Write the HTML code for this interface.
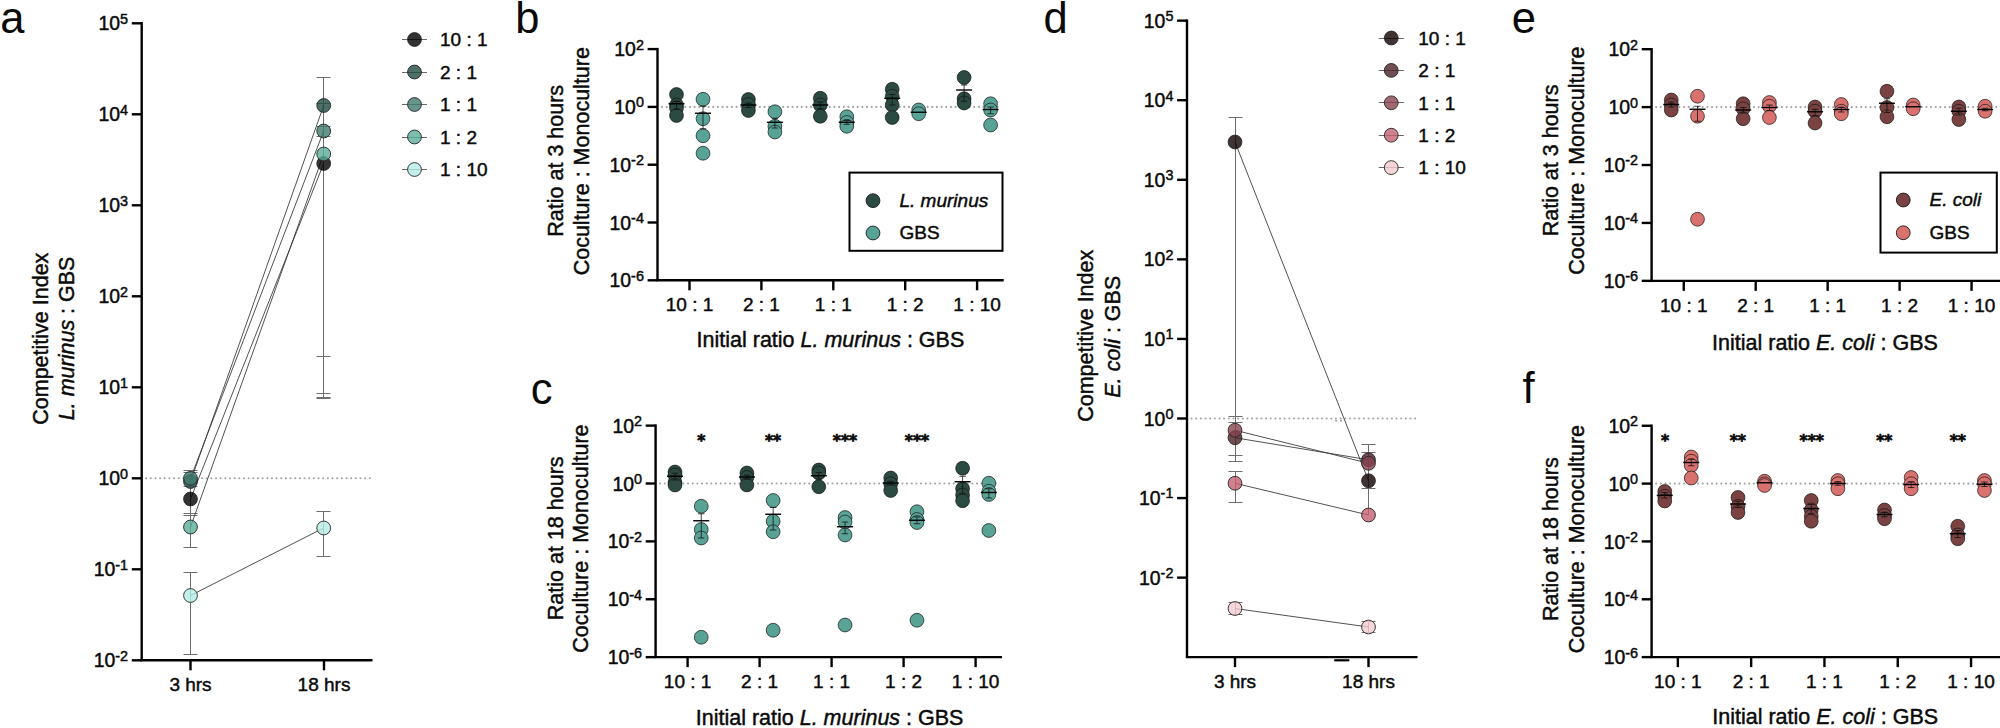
<!DOCTYPE html>
<html lang="en"><head><meta charset="utf-8"><title>Figure</title>
<style>
html,body{margin:0;padding:0;background:#fff;}
svg{display:block}
svg text{font-family:"Liberation Sans", Arial, sans-serif;fill:#0a0a0a;stroke:#0a0a0a;stroke-width:0.45px;}
</style></head>
<body>
<svg width="2000" height="728" viewBox="0 0 2000 728">
<rect width="2000" height="728" fill="#fff"/>
<text x="0.3" y="32.7" font-size="43.5" stroke-width="0" style="stroke-width:0">a</text>
<path d="M141.7 22.10V660.30" stroke="#000" stroke-width="2.4" fill="none"/>
<path d="M131.80 23.30H141.7" stroke="#000" stroke-width="2.4" fill="none"/>
<text x="128.1" y="30.40" text-anchor="end" font-size="19.4">10<tspan font-size="14.4" dy="-6.7">5</tspan></text>
<path d="M131.80 114.30H141.7" stroke="#000" stroke-width="2.4" fill="none"/>
<text x="128.1" y="121.40" text-anchor="end" font-size="19.4">10<tspan font-size="14.4" dy="-6.7">4</tspan></text>
<path d="M131.80 205.30H141.7" stroke="#000" stroke-width="2.4" fill="none"/>
<text x="128.1" y="212.40" text-anchor="end" font-size="19.4">10<tspan font-size="14.4" dy="-6.7">3</tspan></text>
<path d="M131.80 296.30H141.7" stroke="#000" stroke-width="2.4" fill="none"/>
<text x="128.1" y="303.40" text-anchor="end" font-size="19.4">10<tspan font-size="14.4" dy="-6.7">2</tspan></text>
<path d="M131.80 387.30H141.7" stroke="#000" stroke-width="2.4" fill="none"/>
<text x="128.1" y="394.40" text-anchor="end" font-size="19.4">10<tspan font-size="14.4" dy="-6.7">1</tspan></text>
<path d="M131.80 478.30H141.7" stroke="#000" stroke-width="2.4" fill="none"/>
<text x="128.1" y="485.40" text-anchor="end" font-size="19.4">10<tspan font-size="14.4" dy="-6.7">0</tspan></text>
<path d="M131.80 569.30H141.7" stroke="#000" stroke-width="2.4" fill="none"/>
<text x="128.1" y="576.40" text-anchor="end" font-size="19.4">10<tspan font-size="14.4" dy="-6.7">-1</tspan></text>
<path d="M131.80 660.30H141.7" stroke="#000" stroke-width="2.4" fill="none"/>
<text x="128.1" y="667.40" text-anchor="end" font-size="19.4">10<tspan font-size="14.4" dy="-6.7">-2</tspan></text>
<path d="M140.50 660.30H372.50" stroke="#000" stroke-width="2.4" fill="none"/>
<path d="M190.50 660.30V670.30" stroke="#000" stroke-width="2.4" fill="none"/>
<text x="190.50" y="691.20" text-anchor="middle" font-size="19">3 hrs</text>
<path d="M324.00 660.30V670.30" stroke="#000" stroke-width="2.4" fill="none"/>
<text x="324.00" y="691.20" text-anchor="middle" font-size="19">18 hrs</text>
<path d="M146.10 478.30H371.00" stroke="#a3a3a3" stroke-width="2.1" stroke-linecap="round" stroke-dasharray="0.01 4.65" fill="none"/>
<text transform="translate(47.50 338.70) rotate(-90)" text-anchor="middle" font-size="21.5">Competitive Index</text>
<text transform="translate(74.30 338.40) rotate(-90)" text-anchor="middle" font-size="21.5"><tspan font-style="italic">L. murinus</tspan> : GBS</text>
<path d="M190.50 470.00V547.20M183.50 470.50H197.50M183.50 472.50H197.50M183.50 486.50H197.50M183.50 513.50H197.50M183.50 515.50H197.50M183.50 547.50H197.50" stroke="#6e6e6e" stroke-width="1" fill="none"/>
<path d="M190.50 572.70V654.70M183.50 572.50H197.50M183.50 654.50H197.50" stroke="#6e6e6e" stroke-width="1" fill="none"/>
<path d="M323.50 77.50V398.40M316.50 77.50H330.50M316.50 103.50H330.50M316.50 126.50H330.50M316.50 136.50H330.50M316.50 356.50H330.50M316.50 393.50H330.50M316.50 397.50H330.50M316.50 398.50H330.50" stroke="#6e6e6e" stroke-width="1" fill="none"/>
<path d="M323.50 511.50V556.80M316.50 511.50H330.50M316.50 556.50H330.50" stroke="#6e6e6e" stroke-width="1" fill="none"/>
<path d="M190.50 499.00L323.70 163.50" stroke="#333" stroke-width="0.85" fill="none"/>
<path d="M190.50 481.50L323.70 105.50" stroke="#333" stroke-width="0.85" fill="none"/>
<path d="M190.50 478.30L323.70 131.00" stroke="#333" stroke-width="0.85" fill="none"/>
<path d="M190.50 527.00L323.70 154.00" stroke="#333" stroke-width="0.85" fill="none"/>
<path d="M190.50 595.50L323.70 528.00" stroke="#333" stroke-width="0.85" fill="none"/>
<circle cx="190.50" cy="499.00" r="6.9" fill="#000000" fill-opacity="0.8" stroke="#262626" stroke-width="0.9"/>
<circle cx="190.50" cy="481.50" r="6.9" fill="#214b42" fill-opacity="0.8" stroke="#262626" stroke-width="0.9"/>
<circle cx="190.50" cy="478.30" r="6.9" fill="#407c6e" fill-opacity="0.8" stroke="#262626" stroke-width="0.9"/>
<circle cx="190.50" cy="527.00" r="6.9" fill="#5bad9a" fill-opacity="0.8" stroke="#262626" stroke-width="0.9"/>
<circle cx="190.50" cy="595.50" r="6.9" fill="#b4ece6" fill-opacity="0.8" stroke="#262626" stroke-width="0.9"/>
<circle cx="323.70" cy="163.50" r="6.9" fill="#000000" fill-opacity="0.8" stroke="#262626" stroke-width="0.9"/>
<circle cx="323.70" cy="105.50" r="6.9" fill="#214b42" fill-opacity="0.8" stroke="#262626" stroke-width="0.9"/>
<circle cx="323.70" cy="131.00" r="6.9" fill="#407c6e" fill-opacity="0.8" stroke="#262626" stroke-width="0.9"/>
<circle cx="323.70" cy="154.00" r="6.9" fill="#5bad9a" fill-opacity="0.8" stroke="#262626" stroke-width="0.9"/>
<circle cx="323.70" cy="528.00" r="6.9" fill="#b4ece6" fill-opacity="0.8" stroke="#262626" stroke-width="0.9"/>
<path d="M402.00 39.50L427.00 39.50" stroke="#666" stroke-width="1" fill="none"/>
<circle cx="414.50" cy="39.50" r="6.9" fill="#000000" fill-opacity="0.8" stroke="#262626" stroke-width="0.9"/>
<text x="440.00" y="46.30" text-anchor="start" font-size="19" >10 : 1</text>
<path d="M402.00 72.50L427.00 72.50" stroke="#666" stroke-width="1" fill="none"/>
<circle cx="414.50" cy="72.00" r="6.9" fill="#214b42" fill-opacity="0.8" stroke="#262626" stroke-width="0.9"/>
<text x="440.00" y="78.80" text-anchor="start" font-size="19" >2 : 1</text>
<path d="M402.00 104.50L427.00 104.50" stroke="#666" stroke-width="1" fill="none"/>
<circle cx="414.50" cy="104.50" r="6.9" fill="#407c6e" fill-opacity="0.8" stroke="#262626" stroke-width="0.9"/>
<text x="440.00" y="111.30" text-anchor="start" font-size="19" >1 : 1</text>
<path d="M402.00 137.50L427.00 137.50" stroke="#666" stroke-width="1" fill="none"/>
<circle cx="414.50" cy="137.00" r="6.9" fill="#5bad9a" fill-opacity="0.8" stroke="#262626" stroke-width="0.9"/>
<text x="440.00" y="143.80" text-anchor="start" font-size="19" >1 : 2</text>
<path d="M402.00 169.50L427.00 169.50" stroke="#666" stroke-width="1" fill="none"/>
<circle cx="414.50" cy="169.50" r="6.9" fill="#b4ece6" fill-opacity="0.8" stroke="#262626" stroke-width="0.9"/>
<text x="440.00" y="176.30" text-anchor="start" font-size="19" >1 : 10</text>
<text x="515.3" y="32.7" font-size="43.5" stroke-width="0" style="stroke-width:0">b</text>
<path d="M657.5 47.90V280.30" stroke="#000" stroke-width="2.4" fill="none"/>
<path d="M647.60 49.10H657.5" stroke="#000" stroke-width="2.4" fill="none"/>
<text x="643.9" y="56.20" text-anchor="end" font-size="19.4">10<tspan font-size="14.4" dy="-6.7">2</tspan></text>
<path d="M647.60 106.90H657.5" stroke="#000" stroke-width="2.4" fill="none"/>
<text x="643.9" y="114.00" text-anchor="end" font-size="19.4">10<tspan font-size="14.4" dy="-6.7">0</tspan></text>
<path d="M647.60 164.70H657.5" stroke="#000" stroke-width="2.4" fill="none"/>
<text x="643.9" y="171.80" text-anchor="end" font-size="19.4">10<tspan font-size="14.4" dy="-6.7">-2</tspan></text>
<path d="M647.60 222.50H657.5" stroke="#000" stroke-width="2.4" fill="none"/>
<text x="643.9" y="229.60" text-anchor="end" font-size="19.4">10<tspan font-size="14.4" dy="-6.7">-4</tspan></text>
<path d="M647.60 280.30H657.5" stroke="#000" stroke-width="2.4" fill="none"/>
<text x="643.9" y="287.40" text-anchor="end" font-size="19.4">10<tspan font-size="14.4" dy="-6.7">-6</tspan></text>
<path d="M656.30 280.30H1003.70" stroke="#000" stroke-width="2.4" fill="none"/>
<path d="M689.50 280.30V290.30" stroke="#000" stroke-width="2.4" fill="none"/>
<text x="689.50" y="311.00" text-anchor="middle" font-size="19">10 : 1</text>
<path d="M761.40 280.30V290.30" stroke="#000" stroke-width="2.4" fill="none"/>
<text x="761.40" y="311.00" text-anchor="middle" font-size="19">2 : 1</text>
<path d="M833.30 280.30V290.30" stroke="#000" stroke-width="2.4" fill="none"/>
<text x="833.30" y="311.00" text-anchor="middle" font-size="19">1 : 1</text>
<path d="M905.20 280.30V290.30" stroke="#000" stroke-width="2.4" fill="none"/>
<text x="905.20" y="311.00" text-anchor="middle" font-size="19">1 : 2</text>
<path d="M977.10 280.30V290.30" stroke="#000" stroke-width="2.4" fill="none"/>
<text x="977.10" y="311.00" text-anchor="middle" font-size="19">1 : 10</text>
<path d="M662.00 106.90H1001.70" stroke="#a3a3a3" stroke-width="2.1" stroke-linecap="round" stroke-dasharray="0.01 4.65" fill="none"/>
<circle cx="676.50" cy="94.50" r="6.9" fill="#2a4a42" fill-opacity="1" stroke="#151515" stroke-width="0.7"/>
<circle cx="676.50" cy="105.00" r="6.9" fill="#2a4a42" fill-opacity="1" stroke="#151515" stroke-width="0.7"/>
<circle cx="676.50" cy="108.00" r="6.9" fill="#2a4a42" fill-opacity="1" stroke="#151515" stroke-width="0.7"/>
<circle cx="676.50" cy="115.50" r="6.9" fill="#2a4a42" fill-opacity="1" stroke="#151515" stroke-width="0.7"/>
<circle cx="703.00" cy="99.25" r="6.9" fill="#58a396" fill-opacity="1" stroke="#151515" stroke-width="0.7"/>
<circle cx="703.00" cy="118.75" r="6.9" fill="#58a396" fill-opacity="1" stroke="#151515" stroke-width="0.7"/>
<circle cx="703.00" cy="135.75" r="6.9" fill="#58a396" fill-opacity="1" stroke="#151515" stroke-width="0.7"/>
<circle cx="703.00" cy="153.25" r="6.9" fill="#58a396" fill-opacity="1" stroke="#151515" stroke-width="0.7"/>
<circle cx="748.40" cy="99.50" r="6.9" fill="#2a4a42" fill-opacity="1" stroke="#151515" stroke-width="0.7"/>
<circle cx="748.40" cy="104.50" r="6.9" fill="#2a4a42" fill-opacity="1" stroke="#151515" stroke-width="0.7"/>
<circle cx="748.40" cy="110.50" r="6.9" fill="#2a4a42" fill-opacity="1" stroke="#151515" stroke-width="0.7"/>
<circle cx="774.90" cy="111.75" r="6.9" fill="#58a396" fill-opacity="1" stroke="#151515" stroke-width="0.7"/>
<circle cx="774.90" cy="126.25" r="6.9" fill="#58a396" fill-opacity="1" stroke="#151515" stroke-width="0.7"/>
<circle cx="774.90" cy="132.00" r="6.9" fill="#58a396" fill-opacity="1" stroke="#151515" stroke-width="0.7"/>
<circle cx="820.30" cy="98.25" r="6.9" fill="#2a4a42" fill-opacity="1" stroke="#151515" stroke-width="0.7"/>
<circle cx="820.30" cy="105.00" r="6.9" fill="#2a4a42" fill-opacity="1" stroke="#151515" stroke-width="0.7"/>
<circle cx="820.30" cy="116.25" r="6.9" fill="#2a4a42" fill-opacity="1" stroke="#151515" stroke-width="0.7"/>
<circle cx="846.80" cy="116.75" r="6.9" fill="#58a396" fill-opacity="1" stroke="#151515" stroke-width="0.7"/>
<circle cx="846.80" cy="122.50" r="6.9" fill="#58a396" fill-opacity="1" stroke="#151515" stroke-width="0.7"/>
<circle cx="846.80" cy="126.25" r="6.9" fill="#58a396" fill-opacity="1" stroke="#151515" stroke-width="0.7"/>
<circle cx="892.20" cy="89.25" r="6.9" fill="#2a4a42" fill-opacity="1" stroke="#151515" stroke-width="0.7"/>
<circle cx="892.20" cy="96.25" r="6.9" fill="#2a4a42" fill-opacity="1" stroke="#151515" stroke-width="0.7"/>
<circle cx="892.20" cy="105.00" r="6.9" fill="#2a4a42" fill-opacity="1" stroke="#151515" stroke-width="0.7"/>
<circle cx="892.20" cy="117.50" r="6.9" fill="#2a4a42" fill-opacity="1" stroke="#151515" stroke-width="0.7"/>
<circle cx="918.70" cy="110.00" r="6.9" fill="#58a396" fill-opacity="1" stroke="#151515" stroke-width="0.7"/>
<circle cx="918.70" cy="113.75" r="6.9" fill="#58a396" fill-opacity="1" stroke="#151515" stroke-width="0.7"/>
<circle cx="964.10" cy="77.50" r="6.9" fill="#2a4a42" fill-opacity="1" stroke="#151515" stroke-width="0.7"/>
<circle cx="964.10" cy="98.75" r="6.9" fill="#2a4a42" fill-opacity="1" stroke="#151515" stroke-width="0.7"/>
<circle cx="964.10" cy="103.00" r="6.9" fill="#2a4a42" fill-opacity="1" stroke="#151515" stroke-width="0.7"/>
<circle cx="990.60" cy="103.75" r="6.9" fill="#58a396" fill-opacity="1" stroke="#151515" stroke-width="0.7"/>
<circle cx="990.60" cy="110.00" r="6.9" fill="#58a396" fill-opacity="1" stroke="#151515" stroke-width="0.7"/>
<circle cx="990.60" cy="125.00" r="6.9" fill="#58a396" fill-opacity="1" stroke="#151515" stroke-width="0.7"/>
<path d="M676.50 101.25V109.50M673.30 101.25H679.70M673.30 109.50H679.70" stroke="#111" stroke-width="0.8" fill="none"/>
<path d="M668.50 103.75H684.50" stroke="#000" stroke-width="1.4"/>
<path d="M703.00 106.25V128.75M699.80 106.25H706.20M699.80 128.75H706.20" stroke="#111" stroke-width="0.8" fill="none"/>
<path d="M695.00 113.25H711.00" stroke="#000" stroke-width="1.4"/>
<path d="M748.40 103.00V107.50M745.20 103.00H751.60M745.20 107.50H751.60" stroke="#111" stroke-width="0.8" fill="none"/>
<path d="M740.40 105.00H756.40" stroke="#000" stroke-width="1.4"/>
<path d="M774.90 118.25V128.00M771.70 118.25H778.10M771.70 128.00H778.10" stroke="#111" stroke-width="0.8" fill="none"/>
<path d="M766.90 122.25H782.90" stroke="#000" stroke-width="1.4"/>
<path d="M820.30 102.00V108.75M817.10 102.00H823.50M817.10 108.75H823.50" stroke="#111" stroke-width="0.8" fill="none"/>
<path d="M812.30 105.00H828.30" stroke="#000" stroke-width="1.4"/>
<path d="M846.80 120.50V124.25M843.60 120.50H850.00M843.60 124.25H850.00" stroke="#111" stroke-width="0.8" fill="none"/>
<path d="M838.80 122.25H854.80" stroke="#000" stroke-width="1.4"/>
<path d="M892.20 94.50V105.00M889.00 94.50H895.40M889.00 105.00H895.40" stroke="#111" stroke-width="0.8" fill="none"/>
<path d="M884.20 98.25H900.20" stroke="#000" stroke-width="1.4"/>
<path d="M910.70 112.25H926.70" stroke="#000" stroke-width="1.4"/>
<path d="M964.10 85.00V101.25M960.90 85.00H967.30M960.90 101.25H967.30" stroke="#111" stroke-width="0.8" fill="none"/>
<path d="M956.10 90.00H972.10" stroke="#000" stroke-width="1.4"/>
<path d="M990.60 107.00V113.75M987.40 107.00H993.80M987.40 113.75H993.80" stroke="#111" stroke-width="0.8" fill="none"/>
<path d="M982.60 109.50H998.60" stroke="#000" stroke-width="1.4"/>
<text transform="translate(563.20 160.80) rotate(-90)" text-anchor="middle" font-size="21.5">Ratio at 3 hours</text>
<text transform="translate(588.70 161.20) rotate(-90)" text-anchor="middle" font-size="21.5">Coculture : Monoculture</text>
<text x="830.40" y="347.00" text-anchor="middle" font-size="21.5" >Initial ratio <tspan font-style="italic">L. murinus</tspan> : GBS</text>
<rect x="849.5" y="172.6" width="153" height="78.2" fill="#fff" stroke="#000" stroke-width="2"/>
<circle cx="873.00" cy="200.70" r="6.9" fill="#2a4a42" fill-opacity="1" stroke="#1a1a1a" stroke-width="0.9"/>
<circle cx="873.00" cy="233.00" r="6.9" fill="#58a396" fill-opacity="1" stroke="#1a1a1a" stroke-width="0.9"/>
<text x="899.50" y="207.00" text-anchor="start" font-size="19" font-style="italic">L. murinus</text>
<text x="899.50" y="239.30" text-anchor="start" font-size="19" >GBS</text>
<text x="530.8" y="403.5" font-size="43.5" stroke-width="0" style="stroke-width:0">c</text>
<path d="M655.6 424.42V657.14" stroke="#000" stroke-width="2.4" fill="none"/>
<path d="M645.70 425.62H655.6" stroke="#000" stroke-width="2.4" fill="none"/>
<text x="642.0" y="432.72" text-anchor="end" font-size="19.4">10<tspan font-size="14.4" dy="-6.7">2</tspan></text>
<path d="M645.70 483.50H655.6" stroke="#000" stroke-width="2.4" fill="none"/>
<text x="642.0" y="490.60" text-anchor="end" font-size="19.4">10<tspan font-size="14.4" dy="-6.7">0</tspan></text>
<path d="M645.70 541.38H655.6" stroke="#000" stroke-width="2.4" fill="none"/>
<text x="642.0" y="548.48" text-anchor="end" font-size="19.4">10<tspan font-size="14.4" dy="-6.7">-2</tspan></text>
<path d="M645.70 599.26H655.6" stroke="#000" stroke-width="2.4" fill="none"/>
<text x="642.0" y="606.36" text-anchor="end" font-size="19.4">10<tspan font-size="14.4" dy="-6.7">-4</tspan></text>
<path d="M645.70 657.14H655.6" stroke="#000" stroke-width="2.4" fill="none"/>
<text x="642.0" y="664.24" text-anchor="end" font-size="19.4">10<tspan font-size="14.4" dy="-6.7">-6</tspan></text>
<path d="M654.40 657.14H1002.00" stroke="#000" stroke-width="2.4" fill="none"/>
<path d="M687.60 657.14V667.14" stroke="#000" stroke-width="2.4" fill="none"/>
<text x="687.60" y="688.30" text-anchor="middle" font-size="19">10 : 1</text>
<path d="M759.60 657.14V667.14" stroke="#000" stroke-width="2.4" fill="none"/>
<text x="759.60" y="688.30" text-anchor="middle" font-size="19">2 : 1</text>
<path d="M831.60 657.14V667.14" stroke="#000" stroke-width="2.4" fill="none"/>
<text x="831.60" y="688.30" text-anchor="middle" font-size="19">1 : 1</text>
<path d="M903.60 657.14V667.14" stroke="#000" stroke-width="2.4" fill="none"/>
<text x="903.60" y="688.30" text-anchor="middle" font-size="19">1 : 2</text>
<path d="M975.60 657.14V667.14" stroke="#000" stroke-width="2.4" fill="none"/>
<text x="975.60" y="688.30" text-anchor="middle" font-size="19">1 : 10</text>
<path d="M660.10 483.50H1000.00" stroke="#a3a3a3" stroke-width="2.1" stroke-linecap="round" stroke-dasharray="0.01 4.65" fill="none"/>
<circle cx="675.00" cy="472.00" r="6.9" fill="#2a4a42" fill-opacity="1" stroke="#151515" stroke-width="0.7"/>
<circle cx="675.00" cy="475.00" r="6.9" fill="#2a4a42" fill-opacity="1" stroke="#151515" stroke-width="0.7"/>
<circle cx="675.00" cy="482.50" r="6.9" fill="#2a4a42" fill-opacity="1" stroke="#151515" stroke-width="0.7"/>
<circle cx="675.00" cy="485.00" r="6.9" fill="#2a4a42" fill-opacity="1" stroke="#151515" stroke-width="0.7"/>
<circle cx="701.25" cy="506.25" r="6.9" fill="#58a396" fill-opacity="1" stroke="#151515" stroke-width="0.7"/>
<circle cx="701.25" cy="529.50" r="6.9" fill="#58a396" fill-opacity="1" stroke="#151515" stroke-width="0.7"/>
<circle cx="701.25" cy="538.00" r="6.9" fill="#58a396" fill-opacity="1" stroke="#151515" stroke-width="0.7"/>
<circle cx="701.25" cy="637.25" r="6.9" fill="#58a396" fill-opacity="1" stroke="#151515" stroke-width="0.7"/>
<circle cx="746.90" cy="473.00" r="6.9" fill="#2a4a42" fill-opacity="1" stroke="#151515" stroke-width="0.7"/>
<circle cx="746.90" cy="477.50" r="6.9" fill="#2a4a42" fill-opacity="1" stroke="#151515" stroke-width="0.7"/>
<circle cx="746.90" cy="485.00" r="6.9" fill="#2a4a42" fill-opacity="1" stroke="#151515" stroke-width="0.7"/>
<circle cx="773.15" cy="500.50" r="6.9" fill="#58a396" fill-opacity="1" stroke="#151515" stroke-width="0.7"/>
<circle cx="773.15" cy="521.25" r="6.9" fill="#58a396" fill-opacity="1" stroke="#151515" stroke-width="0.7"/>
<circle cx="773.15" cy="531.75" r="6.9" fill="#58a396" fill-opacity="1" stroke="#151515" stroke-width="0.7"/>
<circle cx="773.15" cy="630.25" r="6.9" fill="#58a396" fill-opacity="1" stroke="#151515" stroke-width="0.7"/>
<circle cx="818.80" cy="470.00" r="6.9" fill="#2a4a42" fill-opacity="1" stroke="#151515" stroke-width="0.7"/>
<circle cx="818.80" cy="473.00" r="6.9" fill="#2a4a42" fill-opacity="1" stroke="#151515" stroke-width="0.7"/>
<circle cx="818.80" cy="486.75" r="6.9" fill="#2a4a42" fill-opacity="1" stroke="#151515" stroke-width="0.7"/>
<circle cx="845.05" cy="517.50" r="6.9" fill="#58a396" fill-opacity="1" stroke="#151515" stroke-width="0.7"/>
<circle cx="845.05" cy="522.00" r="6.9" fill="#58a396" fill-opacity="1" stroke="#151515" stroke-width="0.7"/>
<circle cx="845.05" cy="535.00" r="6.9" fill="#58a396" fill-opacity="1" stroke="#151515" stroke-width="0.7"/>
<circle cx="845.05" cy="625.00" r="6.9" fill="#58a396" fill-opacity="1" stroke="#151515" stroke-width="0.7"/>
<circle cx="890.70" cy="478.00" r="6.9" fill="#2a4a42" fill-opacity="1" stroke="#151515" stroke-width="0.7"/>
<circle cx="890.70" cy="483.75" r="6.9" fill="#2a4a42" fill-opacity="1" stroke="#151515" stroke-width="0.7"/>
<circle cx="890.70" cy="490.50" r="6.9" fill="#2a4a42" fill-opacity="1" stroke="#151515" stroke-width="0.7"/>
<circle cx="916.95" cy="511.75" r="6.9" fill="#58a396" fill-opacity="1" stroke="#151515" stroke-width="0.7"/>
<circle cx="916.95" cy="519.50" r="6.9" fill="#58a396" fill-opacity="1" stroke="#151515" stroke-width="0.7"/>
<circle cx="916.95" cy="522.50" r="6.9" fill="#58a396" fill-opacity="1" stroke="#151515" stroke-width="0.7"/>
<circle cx="916.95" cy="620.25" r="6.9" fill="#58a396" fill-opacity="1" stroke="#151515" stroke-width="0.7"/>
<circle cx="962.60" cy="468.25" r="6.9" fill="#2a4a42" fill-opacity="1" stroke="#151515" stroke-width="0.7"/>
<circle cx="962.60" cy="488.75" r="6.9" fill="#2a4a42" fill-opacity="1" stroke="#151515" stroke-width="0.7"/>
<circle cx="962.60" cy="495.00" r="6.9" fill="#2a4a42" fill-opacity="1" stroke="#151515" stroke-width="0.7"/>
<circle cx="962.60" cy="500.75" r="6.9" fill="#2a4a42" fill-opacity="1" stroke="#151515" stroke-width="0.7"/>
<circle cx="988.85" cy="483.25" r="6.9" fill="#58a396" fill-opacity="1" stroke="#151515" stroke-width="0.7"/>
<circle cx="988.85" cy="491.25" r="6.9" fill="#58a396" fill-opacity="1" stroke="#151515" stroke-width="0.7"/>
<circle cx="988.85" cy="494.50" r="6.9" fill="#58a396" fill-opacity="1" stroke="#151515" stroke-width="0.7"/>
<circle cx="988.85" cy="530.50" r="6.9" fill="#58a396" fill-opacity="1" stroke="#151515" stroke-width="0.7"/>
<path d="M675.00 473.25V480.00M671.80 473.25H678.20M671.80 480.00H678.20" stroke="#111" stroke-width="0.8" fill="none"/>
<path d="M667.00 476.25H683.00" stroke="#000" stroke-width="1.4"/>
<path d="M701.25 513.75V538.00M698.05 513.75H704.45M698.05 538.00H704.45" stroke="#111" stroke-width="0.8" fill="none"/>
<path d="M693.25 520.75H709.25" stroke="#000" stroke-width="1.4"/>
<path d="M746.90 475.00V479.25M743.70 475.00H750.10M743.70 479.25H750.10" stroke="#111" stroke-width="0.8" fill="none"/>
<path d="M738.90 477.00H754.90" stroke="#000" stroke-width="1.4"/>
<path d="M773.15 507.50V530.00M769.95 507.50H776.35M769.95 530.00H776.35" stroke="#111" stroke-width="0.8" fill="none"/>
<path d="M765.15 514.25H781.15" stroke="#000" stroke-width="1.4"/>
<path d="M818.80 472.50V478.75M815.60 472.50H822.00M815.60 478.75H822.00" stroke="#111" stroke-width="0.8" fill="none"/>
<path d="M810.80 475.75H826.80" stroke="#000" stroke-width="1.4"/>
<path d="M845.05 522.00V533.75M841.85 522.00H848.25M841.85 533.75H848.25" stroke="#111" stroke-width="0.8" fill="none"/>
<path d="M837.05 526.75H853.05" stroke="#000" stroke-width="1.4"/>
<path d="M890.70 481.25V485.00M887.50 481.25H893.90M887.50 485.00H893.90" stroke="#111" stroke-width="0.8" fill="none"/>
<path d="M882.70 483.00H898.70" stroke="#000" stroke-width="1.4"/>
<path d="M916.95 517.00V523.75M913.75 517.00H920.15M913.75 523.75H920.15" stroke="#111" stroke-width="0.8" fill="none"/>
<path d="M908.95 520.25H924.95" stroke="#000" stroke-width="1.4"/>
<path d="M962.60 476.25V493.75M959.40 476.25H965.80M959.40 493.75H965.80" stroke="#111" stroke-width="0.8" fill="none"/>
<path d="M954.60 481.75H970.60" stroke="#000" stroke-width="1.4"/>
<path d="M988.85 488.75V498.00M985.65 488.75H992.05M985.65 498.00H992.05" stroke="#111" stroke-width="0.8" fill="none"/>
<path d="M980.85 492.50H996.85" stroke="#000" stroke-width="1.4"/>
<text transform="translate(563.00 538.30) rotate(-90)" text-anchor="middle" font-size="21.5">Ratio at 18 hours</text>
<text transform="translate(587.50 538.60) rotate(-90)" text-anchor="middle" font-size="21.5">Coculture : Monoculture</text>
<text x="829.60" y="724.80" text-anchor="middle" font-size="21.5" >Initial ratio <tspan font-style="italic">L. murinus</tspan> : GBS</text>
<text x="701.25" y="446.10" text-anchor="middle" font-size="15.5" font-weight="bold" style="font-family:'DejaVu Sans',sans-serif;stroke-width:0.75px">*</text>
<text x="773.00" y="446.10" text-anchor="middle" font-size="15.5" font-weight="bold" style="font-family:'DejaVu Sans',sans-serif;stroke-width:0.75px">**</text>
<text x="845.00" y="446.10" text-anchor="middle" font-size="15.5" font-weight="bold" style="font-family:'DejaVu Sans',sans-serif;stroke-width:0.75px">***</text>
<text x="917.00" y="446.10" text-anchor="middle" font-size="15.5" font-weight="bold" style="font-family:'DejaVu Sans',sans-serif;stroke-width:0.75px">***</text>
<text x="1043.6" y="32.7" font-size="43.5" stroke-width="0" style="stroke-width:0">d</text>
<path d="M1187 19.45V657.10" stroke="#000" stroke-width="2.4" fill="none"/>
<path d="M1177.10 20.65H1187" stroke="#000" stroke-width="2.4" fill="none"/>
<text x="1173.4" y="27.75" text-anchor="end" font-size="19.4">10<tspan font-size="14.4" dy="-6.7">5</tspan></text>
<path d="M1177.10 100.22H1187" stroke="#000" stroke-width="2.4" fill="none"/>
<text x="1173.4" y="107.32" text-anchor="end" font-size="19.4">10<tspan font-size="14.4" dy="-6.7">4</tspan></text>
<path d="M1177.10 179.79H1187" stroke="#000" stroke-width="2.4" fill="none"/>
<text x="1173.4" y="186.89" text-anchor="end" font-size="19.4">10<tspan font-size="14.4" dy="-6.7">3</tspan></text>
<path d="M1177.10 259.36H1187" stroke="#000" stroke-width="2.4" fill="none"/>
<text x="1173.4" y="266.46" text-anchor="end" font-size="19.4">10<tspan font-size="14.4" dy="-6.7">2</tspan></text>
<path d="M1177.10 338.93H1187" stroke="#000" stroke-width="2.4" fill="none"/>
<text x="1173.4" y="346.03" text-anchor="end" font-size="19.4">10<tspan font-size="14.4" dy="-6.7">1</tspan></text>
<path d="M1177.10 418.50H1187" stroke="#000" stroke-width="2.4" fill="none"/>
<text x="1173.4" y="425.60" text-anchor="end" font-size="19.4">10<tspan font-size="14.4" dy="-6.7">0</tspan></text>
<path d="M1177.10 498.07H1187" stroke="#000" stroke-width="2.4" fill="none"/>
<text x="1173.4" y="505.17" text-anchor="end" font-size="19.4">10<tspan font-size="14.4" dy="-6.7">-1</tspan></text>
<path d="M1177.10 577.64H1187" stroke="#000" stroke-width="2.4" fill="none"/>
<text x="1173.4" y="584.74" text-anchor="end" font-size="19.4">10<tspan font-size="14.4" dy="-6.7">-2</tspan></text>
<path d="M1185.80 657.10H1417.50" stroke="#000" stroke-width="2.4" fill="none"/>
<path d="M1235.00 657.10V667.10" stroke="#000" stroke-width="2.4" fill="none"/>
<text x="1235.00" y="688.30" text-anchor="middle" font-size="19">3 hrs</text>
<path d="M1368.50 657.10V667.10" stroke="#000" stroke-width="2.4" fill="none"/>
<text x="1368.50" y="688.30" text-anchor="middle" font-size="19">18 hrs</text>
<path d="M1334.2 660.3H1349.3" stroke="#000" stroke-width="2.2"/>
<path d="M1191.50 418.50H1415.50" stroke="#a3a3a3" stroke-width="2.1" stroke-linecap="round" stroke-dasharray="0.01 4.65" fill="none"/>
<path d="M1336.15 420.8h0.01M1341 420.8h0.01" stroke="#a3a3a3" stroke-width="2.1" stroke-linecap="round" fill="none"/>
<text transform="translate(1092.50 335.80) rotate(-90)" text-anchor="middle" font-size="21.5">Competitive Index</text>
<text transform="translate(1119.50 336.70) rotate(-90)" text-anchor="middle" font-size="21.5"><tspan font-style="italic">E. coli</tspan> : GBS</text>
<path d="M1235.50 117.50V461.50M1228.50 117.50H1242.50M1228.50 416.50H1242.50M1228.50 422.50H1242.50M1228.50 455.50H1242.50M1228.50 461.50H1242.50" stroke="#6e6e6e" stroke-width="1" fill="none"/>
<path d="M1235.50 471.50V502.25M1228.50 471.50H1242.50M1228.50 502.50H1242.50" stroke="#6e6e6e" stroke-width="1" fill="none"/>
<path d="M1235.50 602.25V614.75M1228.50 602.50H1242.50M1228.50 614.50H1242.50" stroke="#6e6e6e" stroke-width="1" fill="none"/>
<path d="M1368.50 444.00V515.00M1361.50 444.50H1375.50M1361.50 452.50H1375.50M1361.50 488.50H1375.50" stroke="#6e6e6e" stroke-width="1" fill="none"/>
<path d="M1368.50 621.50V632.75M1361.50 621.50H1375.50M1361.50 632.50H1375.50" stroke="#6e6e6e" stroke-width="1" fill="none"/>
<path d="M1235.00 142.00L1368.50 480.75" stroke="#333" stroke-width="0.85" fill="none"/>
<path d="M1235.00 437.75L1368.50 459.75" stroke="#333" stroke-width="0.85" fill="none"/>
<path d="M1235.00 430.25L1368.50 463.25" stroke="#333" stroke-width="0.85" fill="none"/>
<path d="M1235.00 483.25L1368.50 515.00" stroke="#333" stroke-width="0.85" fill="none"/>
<path d="M1235.00 608.50L1368.50 627.00" stroke="#333" stroke-width="0.85" fill="none"/>
<circle cx="1235.00" cy="142.00" r="6.9" fill="#0f0001" fill-opacity="0.8" stroke="#262626" stroke-width="0.9"/>
<circle cx="1235.00" cy="437.75" r="6.9" fill="#4b2128" fill-opacity="0.8" stroke="#262626" stroke-width="0.9"/>
<circle cx="1235.00" cy="430.25" r="6.9" fill="#88424f" fill-opacity="0.8" stroke="#262626" stroke-width="0.9"/>
<circle cx="1235.00" cy="483.25" r="6.9" fill="#c4606f" fill-opacity="0.8" stroke="#262626" stroke-width="0.9"/>
<circle cx="1235.00" cy="608.50" r="6.9" fill="#f3cbd0" fill-opacity="0.8" stroke="#262626" stroke-width="0.9"/>
<circle cx="1368.50" cy="480.75" r="6.9" fill="#0f0001" fill-opacity="0.8" stroke="#262626" stroke-width="0.9"/>
<circle cx="1368.50" cy="459.75" r="6.9" fill="#4b2128" fill-opacity="0.8" stroke="#262626" stroke-width="0.9"/>
<circle cx="1368.50" cy="463.25" r="6.9" fill="#88424f" fill-opacity="0.8" stroke="#262626" stroke-width="0.9"/>
<circle cx="1368.50" cy="515.00" r="6.9" fill="#c4606f" fill-opacity="0.8" stroke="#262626" stroke-width="0.9"/>
<circle cx="1368.50" cy="627.00" r="6.9" fill="#f3cbd0" fill-opacity="0.8" stroke="#262626" stroke-width="0.9"/>
<path d="M1378.75 38.50L1403.75 38.50" stroke="#666" stroke-width="1" fill="none"/>
<circle cx="1391.25" cy="38.00" r="6.9" fill="#0f0001" fill-opacity="0.8" stroke="#262626" stroke-width="0.9"/>
<text x="1418.30" y="44.80" text-anchor="start" font-size="19" >10 : 1</text>
<path d="M1378.75 70.50L1403.75 70.50" stroke="#666" stroke-width="1" fill="none"/>
<circle cx="1391.25" cy="70.40" r="6.9" fill="#4b2128" fill-opacity="0.8" stroke="#262626" stroke-width="0.9"/>
<text x="1418.30" y="77.20" text-anchor="start" font-size="19" >2 : 1</text>
<path d="M1378.75 102.50L1403.75 102.50" stroke="#666" stroke-width="1" fill="none"/>
<circle cx="1391.25" cy="102.80" r="6.9" fill="#88424f" fill-opacity="0.8" stroke="#262626" stroke-width="0.9"/>
<text x="1418.30" y="109.60" text-anchor="start" font-size="19" >1 : 1</text>
<path d="M1378.75 135.50L1403.75 135.50" stroke="#666" stroke-width="1" fill="none"/>
<circle cx="1391.25" cy="135.20" r="6.9" fill="#c4606f" fill-opacity="0.8" stroke="#262626" stroke-width="0.9"/>
<text x="1418.30" y="142.00" text-anchor="start" font-size="19" >1 : 2</text>
<path d="M1378.75 167.50L1403.75 167.50" stroke="#666" stroke-width="1" fill="none"/>
<circle cx="1391.25" cy="167.60" r="6.9" fill="#f3cbd0" fill-opacity="0.8" stroke="#262626" stroke-width="0.9"/>
<text x="1418.30" y="174.40" text-anchor="start" font-size="19" >1 : 10</text>
<text x="1511.8" y="32.7" font-size="43.5" stroke-width="0" style="stroke-width:0">e</text>
<path d="M1651.6 47.98V280.86" stroke="#000" stroke-width="2.4" fill="none"/>
<path d="M1641.70 49.18H1651.6" stroke="#000" stroke-width="2.4" fill="none"/>
<text x="1638.0" y="56.28" text-anchor="end" font-size="19.4">10<tspan font-size="14.4" dy="-6.7">2</tspan></text>
<path d="M1641.70 107.10H1651.6" stroke="#000" stroke-width="2.4" fill="none"/>
<text x="1638.0" y="114.20" text-anchor="end" font-size="19.4">10<tspan font-size="14.4" dy="-6.7">0</tspan></text>
<path d="M1641.70 165.02H1651.6" stroke="#000" stroke-width="2.4" fill="none"/>
<text x="1638.0" y="172.12" text-anchor="end" font-size="19.4">10<tspan font-size="14.4" dy="-6.7">-2</tspan></text>
<path d="M1641.70 222.94H1651.6" stroke="#000" stroke-width="2.4" fill="none"/>
<text x="1638.0" y="230.04" text-anchor="end" font-size="19.4">10<tspan font-size="14.4" dy="-6.7">-4</tspan></text>
<path d="M1641.70 280.86H1651.6" stroke="#000" stroke-width="2.4" fill="none"/>
<text x="1638.0" y="287.96" text-anchor="end" font-size="19.4">10<tspan font-size="14.4" dy="-6.7">-6</tspan></text>
<path d="M1650.40 280.86H2000.00" stroke="#000" stroke-width="2.4" fill="none"/>
<path d="M1683.75 280.86V290.86" stroke="#000" stroke-width="2.4" fill="none"/>
<text x="1683.75" y="311.70" text-anchor="middle" font-size="19">10 : 1</text>
<path d="M1755.70 280.86V290.86" stroke="#000" stroke-width="2.4" fill="none"/>
<text x="1755.70" y="311.70" text-anchor="middle" font-size="19">2 : 1</text>
<path d="M1827.65 280.86V290.86" stroke="#000" stroke-width="2.4" fill="none"/>
<text x="1827.65" y="311.70" text-anchor="middle" font-size="19">1 : 1</text>
<path d="M1899.60 280.86V290.86" stroke="#000" stroke-width="2.4" fill="none"/>
<text x="1899.60" y="311.70" text-anchor="middle" font-size="19">1 : 2</text>
<path d="M1971.55 280.86V290.86" stroke="#000" stroke-width="2.4" fill="none"/>
<text x="1971.55" y="311.70" text-anchor="middle" font-size="19">1 : 10</text>
<path d="M1656.10 107.10H1998.00" stroke="#a3a3a3" stroke-width="2.1" stroke-linecap="round" stroke-dasharray="0.01 4.65" fill="none"/>
<circle cx="1671.25" cy="100.00" r="6.9" fill="#7a4241" fill-opacity="1" stroke="#151515" stroke-width="0.7"/>
<circle cx="1671.25" cy="105.00" r="6.9" fill="#7a4241" fill-opacity="1" stroke="#151515" stroke-width="0.7"/>
<circle cx="1671.25" cy="110.00" r="6.9" fill="#7a4241" fill-opacity="1" stroke="#151515" stroke-width="0.7"/>
<circle cx="1697.50" cy="96.25" r="6.9" fill="#d9726f" fill-opacity="1" stroke="#151515" stroke-width="0.7"/>
<circle cx="1697.50" cy="116.25" r="6.9" fill="#d9726f" fill-opacity="1" stroke="#151515" stroke-width="0.7"/>
<circle cx="1697.50" cy="219.25" r="6.9" fill="#d9726f" fill-opacity="1" stroke="#151515" stroke-width="0.7"/>
<circle cx="1743.15" cy="103.75" r="6.9" fill="#7a4241" fill-opacity="1" stroke="#151515" stroke-width="0.7"/>
<circle cx="1743.15" cy="108.75" r="6.9" fill="#7a4241" fill-opacity="1" stroke="#151515" stroke-width="0.7"/>
<circle cx="1743.15" cy="118.75" r="6.9" fill="#7a4241" fill-opacity="1" stroke="#151515" stroke-width="0.7"/>
<circle cx="1769.40" cy="102.50" r="6.9" fill="#d9726f" fill-opacity="1" stroke="#151515" stroke-width="0.7"/>
<circle cx="1769.40" cy="106.25" r="6.9" fill="#d9726f" fill-opacity="1" stroke="#151515" stroke-width="0.7"/>
<circle cx="1769.40" cy="117.50" r="6.9" fill="#d9726f" fill-opacity="1" stroke="#151515" stroke-width="0.7"/>
<circle cx="1815.05" cy="107.00" r="6.9" fill="#7a4241" fill-opacity="1" stroke="#151515" stroke-width="0.7"/>
<circle cx="1815.05" cy="111.25" r="6.9" fill="#7a4241" fill-opacity="1" stroke="#151515" stroke-width="0.7"/>
<circle cx="1815.05" cy="123.00" r="6.9" fill="#7a4241" fill-opacity="1" stroke="#151515" stroke-width="0.7"/>
<circle cx="1841.30" cy="104.50" r="6.9" fill="#d9726f" fill-opacity="1" stroke="#151515" stroke-width="0.7"/>
<circle cx="1841.30" cy="111.25" r="6.9" fill="#d9726f" fill-opacity="1" stroke="#151515" stroke-width="0.7"/>
<circle cx="1841.30" cy="113.75" r="6.9" fill="#d9726f" fill-opacity="1" stroke="#151515" stroke-width="0.7"/>
<circle cx="1886.95" cy="91.25" r="6.9" fill="#7a4241" fill-opacity="1" stroke="#151515" stroke-width="0.7"/>
<circle cx="1886.95" cy="107.50" r="6.9" fill="#7a4241" fill-opacity="1" stroke="#151515" stroke-width="0.7"/>
<circle cx="1886.95" cy="116.75" r="6.9" fill="#7a4241" fill-opacity="1" stroke="#151515" stroke-width="0.7"/>
<circle cx="1913.20" cy="105.00" r="6.9" fill="#d9726f" fill-opacity="1" stroke="#151515" stroke-width="0.7"/>
<circle cx="1913.20" cy="108.75" r="6.9" fill="#d9726f" fill-opacity="1" stroke="#151515" stroke-width="0.7"/>
<circle cx="1958.85" cy="107.00" r="6.9" fill="#7a4241" fill-opacity="1" stroke="#151515" stroke-width="0.7"/>
<circle cx="1958.85" cy="111.25" r="6.9" fill="#7a4241" fill-opacity="1" stroke="#151515" stroke-width="0.7"/>
<circle cx="1958.85" cy="119.50" r="6.9" fill="#7a4241" fill-opacity="1" stroke="#151515" stroke-width="0.7"/>
<circle cx="1985.10" cy="106.25" r="6.9" fill="#d9726f" fill-opacity="1" stroke="#151515" stroke-width="0.7"/>
<circle cx="1985.10" cy="111.25" r="6.9" fill="#d9726f" fill-opacity="1" stroke="#151515" stroke-width="0.7"/>
<path d="M1671.25 102.00V107.00M1668.05 102.00H1674.45M1668.05 107.00H1674.45" stroke="#111" stroke-width="0.8" fill="none"/>
<path d="M1663.25 104.50H1679.25" stroke="#000" stroke-width="1.4"/>
<path d="M1697.50 106.25V121.25M1694.30 106.25H1700.70M1694.30 121.25H1700.70" stroke="#111" stroke-width="0.8" fill="none"/>
<path d="M1689.50 109.25H1705.50" stroke="#000" stroke-width="1.4"/>
<path d="M1743.15 107.50V113.00M1739.95 107.50H1746.35M1739.95 113.00H1746.35" stroke="#111" stroke-width="0.8" fill="none"/>
<path d="M1735.15 110.00H1751.15" stroke="#000" stroke-width="1.4"/>
<path d="M1769.40 105.00V110.50M1766.20 105.00H1772.60M1766.20 110.50H1772.60" stroke="#111" stroke-width="0.8" fill="none"/>
<path d="M1761.40 107.50H1777.40" stroke="#000" stroke-width="1.4"/>
<path d="M1815.05 109.25V115.50M1811.85 109.25H1818.25M1811.85 115.50H1818.25" stroke="#111" stroke-width="0.8" fill="none"/>
<path d="M1807.05 111.75H1823.05" stroke="#000" stroke-width="1.4"/>
<path d="M1841.30 107.50V112.00M1838.10 107.50H1844.50M1838.10 112.00H1844.50" stroke="#111" stroke-width="0.8" fill="none"/>
<path d="M1833.30 109.50H1849.30" stroke="#000" stroke-width="1.4"/>
<path d="M1886.95 98.75V112.50M1883.75 98.75H1890.15M1883.75 112.50H1890.15" stroke="#111" stroke-width="0.8" fill="none"/>
<path d="M1878.95 103.25H1894.95" stroke="#000" stroke-width="1.4"/>
<path d="M1905.20 106.75H1921.20" stroke="#000" stroke-width="1.4"/>
<path d="M1958.85 108.25V115.00M1955.65 108.25H1962.05M1955.65 115.00H1962.05" stroke="#111" stroke-width="0.8" fill="none"/>
<path d="M1950.85 111.25H1966.85" stroke="#000" stroke-width="1.4"/>
<path d="M1985.10 108.25V110.75M1981.90 108.25H1988.30M1981.90 110.75H1988.30" stroke="#111" stroke-width="0.8" fill="none"/>
<path d="M1977.10 109.50H1993.10" stroke="#000" stroke-width="1.4"/>
<text transform="translate(1558.00 160.40) rotate(-90)" text-anchor="middle" font-size="21.5">Ratio at 3 hours</text>
<text transform="translate(1583.75 160.60) rotate(-90)" text-anchor="middle" font-size="21.5">Coculture : Monoculture</text>
<text x="1825.00" y="350.00" text-anchor="middle" font-size="21.5" >Initial ratio <tspan font-style="italic">E. coli</tspan> : GBS</text>
<rect x="1880.5" y="172.6" width="116.3" height="80" fill="#fff" stroke="#000" stroke-width="2"/>
<circle cx="1903.25" cy="200.00" r="6.9" fill="#7a4241" fill-opacity="1" stroke="#1a1a1a" stroke-width="0.9"/>
<circle cx="1903.25" cy="232.75" r="6.9" fill="#d9726f" fill-opacity="1" stroke="#1a1a1a" stroke-width="0.9"/>
<text x="1929.50" y="206.30" text-anchor="start" font-size="19" font-style="italic">E. coli</text>
<text x="1929.50" y="239.30" text-anchor="start" font-size="19" >GBS</text>
<text x="1522.6" y="403.2" font-size="43.5" stroke-width="0" style="stroke-width:0">f</text>
<path d="M1651.6 424.56V657.12" stroke="#000" stroke-width="2.4" fill="none"/>
<path d="M1641.70 425.76H1651.6" stroke="#000" stroke-width="2.4" fill="none"/>
<text x="1638.0" y="432.86" text-anchor="end" font-size="19.4">10<tspan font-size="14.4" dy="-6.7">2</tspan></text>
<path d="M1641.70 483.60H1651.6" stroke="#000" stroke-width="2.4" fill="none"/>
<text x="1638.0" y="490.70" text-anchor="end" font-size="19.4">10<tspan font-size="14.4" dy="-6.7">0</tspan></text>
<path d="M1641.70 541.44H1651.6" stroke="#000" stroke-width="2.4" fill="none"/>
<text x="1638.0" y="548.54" text-anchor="end" font-size="19.4">10<tspan font-size="14.4" dy="-6.7">-2</tspan></text>
<path d="M1641.70 599.28H1651.6" stroke="#000" stroke-width="2.4" fill="none"/>
<text x="1638.0" y="606.38" text-anchor="end" font-size="19.4">10<tspan font-size="14.4" dy="-6.7">-4</tspan></text>
<path d="M1641.70 657.12H1651.6" stroke="#000" stroke-width="2.4" fill="none"/>
<text x="1638.0" y="664.22" text-anchor="end" font-size="19.4">10<tspan font-size="14.4" dy="-6.7">-6</tspan></text>
<path d="M1650.40 657.12H2000.00" stroke="#000" stroke-width="2.4" fill="none"/>
<path d="M1677.85 657.12V667.12" stroke="#000" stroke-width="2.4" fill="none"/>
<text x="1677.85" y="688.30" text-anchor="middle" font-size="19">10 : 1</text>
<path d="M1751.15 657.12V667.12" stroke="#000" stroke-width="2.4" fill="none"/>
<text x="1751.15" y="688.30" text-anchor="middle" font-size="19">2 : 1</text>
<path d="M1824.45 657.12V667.12" stroke="#000" stroke-width="2.4" fill="none"/>
<text x="1824.45" y="688.30" text-anchor="middle" font-size="19">1 : 1</text>
<path d="M1897.75 657.12V667.12" stroke="#000" stroke-width="2.4" fill="none"/>
<text x="1897.75" y="688.30" text-anchor="middle" font-size="19">1 : 2</text>
<path d="M1971.05 657.12V667.12" stroke="#000" stroke-width="2.4" fill="none"/>
<text x="1971.05" y="688.30" text-anchor="middle" font-size="19">1 : 10</text>
<path d="M1656.10 483.60H1998.00" stroke="#a3a3a3" stroke-width="2.1" stroke-linecap="round" stroke-dasharray="0.01 4.65" fill="none"/>
<circle cx="1664.75" cy="491.50" r="6.9" fill="#7a4241" fill-opacity="1" stroke="#151515" stroke-width="0.7"/>
<circle cx="1664.75" cy="496.25" r="6.9" fill="#7a4241" fill-opacity="1" stroke="#151515" stroke-width="0.7"/>
<circle cx="1664.75" cy="501.00" r="6.9" fill="#7a4241" fill-opacity="1" stroke="#151515" stroke-width="0.7"/>
<circle cx="1691.25" cy="457.00" r="6.9" fill="#d9726f" fill-opacity="1" stroke="#151515" stroke-width="0.7"/>
<circle cx="1691.25" cy="461.25" r="6.9" fill="#d9726f" fill-opacity="1" stroke="#151515" stroke-width="0.7"/>
<circle cx="1691.25" cy="465.50" r="6.9" fill="#d9726f" fill-opacity="1" stroke="#151515" stroke-width="0.7"/>
<circle cx="1691.25" cy="478.00" r="6.9" fill="#d9726f" fill-opacity="1" stroke="#151515" stroke-width="0.7"/>
<circle cx="1738.00" cy="497.50" r="6.9" fill="#7a4241" fill-opacity="1" stroke="#151515" stroke-width="0.7"/>
<circle cx="1738.00" cy="506.25" r="6.9" fill="#7a4241" fill-opacity="1" stroke="#151515" stroke-width="0.7"/>
<circle cx="1738.00" cy="512.50" r="6.9" fill="#7a4241" fill-opacity="1" stroke="#151515" stroke-width="0.7"/>
<circle cx="1764.55" cy="481.25" r="6.9" fill="#d9726f" fill-opacity="1" stroke="#151515" stroke-width="0.7"/>
<circle cx="1764.55" cy="483.75" r="6.9" fill="#d9726f" fill-opacity="1" stroke="#151515" stroke-width="0.7"/>
<circle cx="1764.55" cy="485.50" r="6.9" fill="#d9726f" fill-opacity="1" stroke="#151515" stroke-width="0.7"/>
<circle cx="1811.25" cy="500.50" r="6.9" fill="#7a4241" fill-opacity="1" stroke="#151515" stroke-width="0.7"/>
<circle cx="1811.25" cy="510.00" r="6.9" fill="#7a4241" fill-opacity="1" stroke="#151515" stroke-width="0.7"/>
<circle cx="1811.25" cy="516.25" r="6.9" fill="#7a4241" fill-opacity="1" stroke="#151515" stroke-width="0.7"/>
<circle cx="1811.25" cy="521.25" r="6.9" fill="#7a4241" fill-opacity="1" stroke="#151515" stroke-width="0.7"/>
<circle cx="1837.85" cy="480.50" r="6.9" fill="#d9726f" fill-opacity="1" stroke="#151515" stroke-width="0.7"/>
<circle cx="1837.85" cy="483.75" r="6.9" fill="#d9726f" fill-opacity="1" stroke="#151515" stroke-width="0.7"/>
<circle cx="1837.85" cy="488.75" r="6.9" fill="#d9726f" fill-opacity="1" stroke="#151515" stroke-width="0.7"/>
<circle cx="1884.50" cy="510.00" r="6.9" fill="#7a4241" fill-opacity="1" stroke="#151515" stroke-width="0.7"/>
<circle cx="1884.50" cy="515.50" r="6.9" fill="#7a4241" fill-opacity="1" stroke="#151515" stroke-width="0.7"/>
<circle cx="1884.50" cy="518.75" r="6.9" fill="#7a4241" fill-opacity="1" stroke="#151515" stroke-width="0.7"/>
<circle cx="1911.15" cy="477.50" r="6.9" fill="#d9726f" fill-opacity="1" stroke="#151515" stroke-width="0.7"/>
<circle cx="1911.15" cy="483.75" r="6.9" fill="#d9726f" fill-opacity="1" stroke="#151515" stroke-width="0.7"/>
<circle cx="1911.15" cy="488.75" r="6.9" fill="#d9726f" fill-opacity="1" stroke="#151515" stroke-width="0.7"/>
<circle cx="1957.75" cy="526.25" r="6.9" fill="#7a4241" fill-opacity="1" stroke="#151515" stroke-width="0.7"/>
<circle cx="1957.75" cy="535.00" r="6.9" fill="#7a4241" fill-opacity="1" stroke="#151515" stroke-width="0.7"/>
<circle cx="1957.75" cy="538.75" r="6.9" fill="#7a4241" fill-opacity="1" stroke="#151515" stroke-width="0.7"/>
<circle cx="1984.45" cy="480.50" r="6.9" fill="#d9726f" fill-opacity="1" stroke="#151515" stroke-width="0.7"/>
<circle cx="1984.45" cy="483.75" r="6.9" fill="#d9726f" fill-opacity="1" stroke="#151515" stroke-width="0.7"/>
<circle cx="1984.45" cy="490.50" r="6.9" fill="#d9726f" fill-opacity="1" stroke="#151515" stroke-width="0.7"/>
<path d="M1664.75 492.50V498.00M1661.55 492.50H1667.95M1661.55 498.00H1667.95" stroke="#111" stroke-width="0.8" fill="none"/>
<path d="M1656.75 495.25H1672.75" stroke="#000" stroke-width="1.4"/>
<path d="M1691.25 459.25V465.75M1688.05 459.25H1694.45M1688.05 465.75H1694.45" stroke="#111" stroke-width="0.8" fill="none"/>
<path d="M1683.25 462.50H1699.25" stroke="#000" stroke-width="1.4"/>
<path d="M1738.00 501.25V507.50M1734.80 501.25H1741.20M1734.80 507.50H1741.20" stroke="#111" stroke-width="0.8" fill="none"/>
<path d="M1730.00 504.00H1746.00" stroke="#000" stroke-width="1.4"/>
<path d="M1756.55 482.75H1772.55" stroke="#000" stroke-width="1.4"/>
<path d="M1811.25 504.50V513.75M1808.05 504.50H1814.45M1808.05 513.75H1814.45" stroke="#111" stroke-width="0.8" fill="none"/>
<path d="M1803.25 508.50H1819.25" stroke="#000" stroke-width="1.4"/>
<path d="M1837.85 481.75V485.25M1834.65 481.75H1841.05M1834.65 485.25H1841.05" stroke="#111" stroke-width="0.8" fill="none"/>
<path d="M1829.85 483.50H1845.85" stroke="#000" stroke-width="1.4"/>
<path d="M1884.50 512.50V516.75M1881.30 512.50H1887.70M1881.30 516.75H1887.70" stroke="#111" stroke-width="0.8" fill="none"/>
<path d="M1876.50 514.50H1892.50" stroke="#000" stroke-width="1.4"/>
<path d="M1911.15 481.75V487.50M1907.95 481.75H1914.35M1907.95 487.50H1914.35" stroke="#111" stroke-width="0.8" fill="none"/>
<path d="M1903.15 484.50H1919.15" stroke="#000" stroke-width="1.4"/>
<path d="M1957.75 530.50V537.50M1954.55 530.50H1960.95M1954.55 537.50H1960.95" stroke="#111" stroke-width="0.8" fill="none"/>
<path d="M1949.75 533.75H1965.75" stroke="#000" stroke-width="1.4"/>
<path d="M1984.45 482.00V486.50M1981.25 482.00H1987.65M1981.25 486.50H1987.65" stroke="#111" stroke-width="0.8" fill="none"/>
<path d="M1976.45 484.25H1992.45" stroke="#000" stroke-width="1.4"/>
<text transform="translate(1558.00 539.20) rotate(-90)" text-anchor="middle" font-size="21.5">Ratio at 18 hours</text>
<text transform="translate(1583.75 539.10) rotate(-90)" text-anchor="middle" font-size="21.5">Coculture : Monoculture</text>
<text x="1825.20" y="724.30" text-anchor="middle" font-size="21.5" >Initial ratio <tspan font-style="italic">E. coli</tspan> : GBS</text>
<text x="1665.00" y="445.90" text-anchor="middle" font-size="15.5" font-weight="bold" style="font-family:'DejaVu Sans',sans-serif;stroke-width:0.75px">*</text>
<text x="1737.75" y="445.90" text-anchor="middle" font-size="15.5" font-weight="bold" style="font-family:'DejaVu Sans',sans-serif;stroke-width:0.75px">**</text>
<text x="1811.75" y="445.90" text-anchor="middle" font-size="15.5" font-weight="bold" style="font-family:'DejaVu Sans',sans-serif;stroke-width:0.75px">***</text>
<text x="1884.25" y="445.90" text-anchor="middle" font-size="15.5" font-weight="bold" style="font-family:'DejaVu Sans',sans-serif;stroke-width:0.75px">**</text>
<text x="1957.75" y="445.90" text-anchor="middle" font-size="15.5" font-weight="bold" style="font-family:'DejaVu Sans',sans-serif;stroke-width:0.75px">**</text>
</svg>
</body></html>
